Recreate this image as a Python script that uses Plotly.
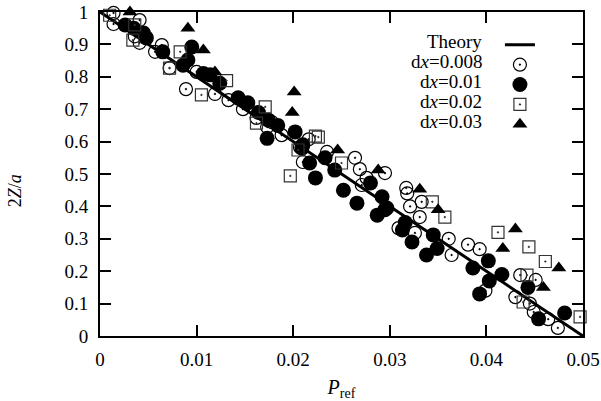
import plotly.graph_objects as go

# Theory line
theory_x = [0.0, 0.05]
theory_y = [1.0, 0.0]

# dx = 0.008 (open circles)
c008_x = [0.0014, 0.0014, 0.0041, 0.0036, 0.0041, 0.0057, 0.0064, 0.0072, 0.0089, 0.0100,
          0.0119, 0.0133, 0.0148, 0.0162, 0.0173, 0.0178, 0.0188, 0.0207, 0.0216, 0.0210,
          0.0235, 0.0264, 0.0269, 0.0276, 0.0295, 0.0271, 0.0317, 0.0318, 0.0321, 0.0333,
          0.0331, 0.0309, 0.0326, 0.0361, 0.0381, 0.0393, 0.0364, 0.0399, 0.0435, 0.0451,
          0.0430, 0.0445, 0.0449, 0.0464, 0.0474]
c008_y = [0.997, 0.963, 0.975, 0.925, 0.905, 0.877, 0.898, 0.827, 0.762, 0.815,
          0.747, 0.728, 0.700, 0.673, 0.645, 0.660, 0.620, 0.583, 0.607, 0.537,
          0.568, 0.550, 0.515, 0.488, 0.503, 0.466, 0.457, 0.440, 0.400, 0.414,
          0.367, 0.333, 0.318, 0.300, 0.282, 0.268, 0.250, 0.140, 0.188, 0.173,
          0.120, 0.100, 0.074, 0.052, 0.025]

# dx = 0.01 (filled circles)
c01_x = [0.0026, 0.0035, 0.0045, 0.0048, 0.0065, 0.0095, 0.0091, 0.0086, 0.0107, 0.0114,
         0.0124, 0.0143, 0.0153, 0.0164, 0.0174, 0.0184, 0.0173, 0.0202, 0.0210, 0.0209,
         0.0217, 0.0223, 0.0233, 0.0243, 0.0252, 0.0266, 0.0280, 0.0292, 0.0297, 0.0287,
         0.0295, 0.0316, 0.0313, 0.0323, 0.0345, 0.0349, 0.0338, 0.0402, 0.0386, 0.0416,
         0.0403, 0.0393, 0.0443, 0.0454, 0.0481]
c01_y = [0.960, 0.950, 0.935, 0.920, 0.877, 0.892, 0.852, 0.836, 0.810, 0.806,
         0.780, 0.735, 0.720, 0.690, 0.667, 0.650, 0.610, 0.630, 0.590, 0.580,
         0.534, 0.488, 0.550, 0.512, 0.450, 0.410, 0.472, 0.430, 0.395, 0.373,
         0.390, 0.350, 0.327, 0.290, 0.312, 0.270, 0.250, 0.232, 0.210, 0.190,
         0.170, 0.130, 0.150, 0.053, 0.071]

# dx = 0.02 (open squares)
s02_x = [0.0010, 0.0036, 0.0034, 0.0083, 0.0072, 0.0105, 0.0131, 0.0171, 0.0162, 0.0223,
         0.0205, 0.0226, 0.0250, 0.0197, 0.0344, 0.0357, 0.0412, 0.0444, 0.0461, 0.0442,
         0.0438, 0.0497]
s02_y = [0.990, 0.960, 0.913, 0.877, 0.827, 0.744, 0.788, 0.707, 0.657, 0.617,
         0.574, 0.614, 0.534, 0.494, 0.414, 0.367, 0.320, 0.275, 0.230, 0.188,
         0.105, 0.059]

# dx = 0.03 (filled triangles)
t03_x = [0.0031, 0.0091, 0.0107, 0.0119, 0.0201, 0.0199, 0.0246, 0.0288, 0.0331, 0.0350,
         0.0430, 0.0417, 0.0475, 0.0459]
t03_y = [1.000, 0.950, 0.883, 0.815, 0.753, 0.690, 0.574, 0.512, 0.453, 0.390,
         0.330, 0.270, 0.210, 0.150]

legend_labels = ["Theory", "d<i>x</i>=0.008", "d<i>x</i>=0.01", "d<i>x</i>=0.02", "d<i>x</i>=0.03"]
x_ticks = [0, 0.01, 0.02, 0.03, 0.04, 0.05]
x_ticktext = ["0", "0.01", "0.02", "0.03", "0.04", "0.05"]
y_ticks = [0, 0.1, 0.2, 0.3, 0.4, 0.5, 0.6, 0.7, 0.8, 0.9, 1.0]
y_ticktext = ["0", "0.1", "0.2", "0.3", "0.4", "0.5", "0.6", "0.7", "0.8", "0.9", "1"]

FONT = "Liberation Serif"
fig = go.Figure()

fig.add_trace(go.Scatter(x=theory_x, y=theory_y, mode="lines", name=" ",
                         line=dict(color="black", width=3)))
fig.add_trace(go.Scatter(x=c008_x, y=c008_y, mode="markers", name=" ", cliponaxis=False,
                         marker=dict(symbol="circle-open-dot", size=13, color="black",
                                     line=dict(width=1.2, color="black"))))
fig.add_trace(go.Scatter(x=c01_x, y=c01_y, mode="markers", name=" ", cliponaxis=False,
                         marker=dict(symbol="circle", size=15, color="black",
                                     line=dict(width=0))))
fig.add_trace(go.Scatter(x=s02_x, y=s02_y, mode="markers", name=" ", cliponaxis=False,
                         marker=dict(symbol="square-open-dot", size=12, color="#333",
                                     line=dict(width=1.2, color="#333"))))
fig.add_trace(go.Scatter(x=t03_x, y=t03_y, mode="markers", name=" ", cliponaxis=False,
                         marker=dict(symbol="triangle-up", size=13, color="black",
                                     line=dict(width=0))))

# legend labels (right aligned, to the left of the legend symbols)
label_y = [0.910, 0.848, 0.786, 0.724, 0.662]
for txt, yy in zip(legend_labels, label_y):
    fig.add_annotation(xref="paper", yref="paper", x=0.795, y=yy, text=txt,
                       showarrow=False, xanchor="right", yanchor="middle",
                       font=dict(family=FONT, size=19, color="black"))

# y axis title
fig.add_annotation(xref="paper", yref="paper", x=-0.176, y=0.45, text="2<i>Z</i>/<i>a</i>",
                   showarrow=False, textangle=-90, xanchor="center", yanchor="middle",
                   font=dict(family=FONT, size=18, color="black"))

axis_common = dict(showline=True, linecolor="black", linewidth=2, mirror="allticks",
                   ticks="inside", ticklen=11, tickwidth=2, tickcolor="black",
                   showgrid=False, zeroline=False, automargin=False,
                   tickfont=dict(family=FONT, size=19, color="black"))

fig.update_xaxes(range=[0, 0.05], tickvals=x_ticks, ticktext=x_ticktext, ticklabelstandoff=5,
                 title=dict(text="<i>P</i><sub>ref</sub>", font=dict(family=FONT, size=20, color="black"),
                            standoff=12),
                 **axis_common)
fig.update_yaxes(range=[0, 1], tickvals=y_ticks, ticktext=y_ticktext, ticklabelstandoff=6,
                 **axis_common)

fig.update_layout(
    width=601, height=401,
    margin=dict(l=100, r=18, t=12, b=65, autoexpand=False),
    paper_bgcolor="white", plot_bgcolor="white",
    showlegend=True,
    legend=dict(x=0.828, y=0.945, xanchor="left", yanchor="top",
                bgcolor="rgba(0,0,0,0)", font=dict(family=FONT, size=13),
                tracegroupgap=0, itemwidth=30),
    font=dict(family=FONT, color="black"),
)

fig.write_html("out.html", config={"displayModeBar": False},
               post_script="document.body.style.margin='0';document.body.style.overflow='hidden';")
